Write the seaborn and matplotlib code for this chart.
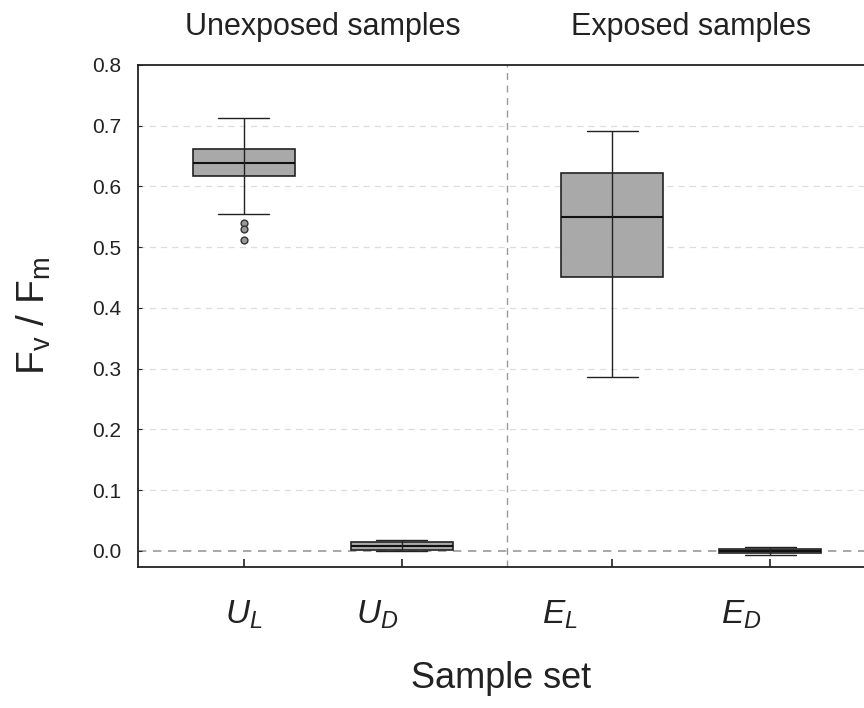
import numpy as np
import pandas as pd
import matplotlib
matplotlib.use("Agg")
import matplotlib.pyplot as plt
import seaborn as sns

# sample sets and where they sit on the x axis
groups = ["U_L", "U_D", "E_L", "E_D"]
positions = [0.0, 1.0, 2.33, 3.33]
tick_labels = [r"$U_L$", r"$U_D$", r"$E_L$", r"$E_D$"]
label_x = [0.0, 0.84, 2.0, 3.15]

# five-number summaries: low whisker, q1, median, q3, high whisker
u_l = [0.555, 0.617, 0.639, 0.662, 0.712]
u_d = [0.000, 0.002, 0.008, 0.014, 0.018]
e_l = [0.286, 0.451, 0.550, 0.622, 0.692]
e_d = [-0.006, -0.004, 0.000, 0.004, 0.006]
u_l_outliers = [0.540, 0.530, 0.512]

section_titles = ["Unexposed samples", "Exposed samples"]
section_x = [0.5, 2.83]
separator_x = 1.665

sns.set_theme(style="ticks")
plt.rcParams["font.family"] = ["Liberation Sans", "DejaVu Sans"]
plt.rcParams["mathtext.fontset"] = "custom"
plt.rcParams["mathtext.rm"] = "Liberation Sans"
plt.rcParams["mathtext.it"] = "Liberation Sans:italic"

rows = []
for pos, vals in zip(positions, [u_l, u_d, e_l, e_d]):
    for v in vals:
        rows.append({"pos": pos, "value": v})
df = pd.DataFrame(rows)

fig = plt.figure(figsize=(8.64, 7.08), dpi=100)
ax = fig.add_axes([0.1597, 0.1992, 0.8403, 0.709])

# light grid
for y in np.arange(0.1, 0.75, 0.1):
    ax.axhline(y, color="#dddddd", lw=0.9, ls=(0, (5, 4)), zorder=0)
ax.axhline(0, color="#999999", lw=1.2, ls=(0, (5, 4)), zorder=0.5)
ax.axvline(separator_x, color="#999999", lw=1.0, ls=(0, (5, 4)), zorder=0.5)

sns.boxplot(data=df, x="pos", y="value", native_scale=True, whis=(0, 100),
            width=0.645, color="#a9a9a9", linecolor="#222222", linewidth=1.0,
            fill=True, ax=ax,
            boxprops={"linewidth": 1.2},
            medianprops={"linewidth": 1.5, "color": "#111111"},
            whiskerprops={"linewidth": 1.0}, capprops={"linewidth": 1.0})

# whisker line drawn through the box as in the original
q1s = [v[1] for v in [u_l, u_d, e_l, e_d]]
q3s = [v[3] for v in [u_l, u_d, e_l, e_d]]
ax.vlines(positions, q1s, q3s, color="#222222", lw=1.0, zorder=5)

sns.scatterplot(x=[positions[0]] * len(u_l_outliers), y=u_l_outliers, ax=ax,
                s=24, color="#999999", edgecolor="#333333", linewidth=1.0, zorder=6)

ax.set_xlim(-0.67, 3.924)
ax.set_ylim(-0.0263, 0.8)
ax.set_yticks(np.arange(0, 0.81, 0.1))
ax.set_yticklabels([f"{t:.1f}" for t in np.arange(0, 0.81, 0.1)])
ax.set_xticks(positions)
ax.set_xticklabels([])
ax.tick_params(axis="x", direction="in", length=6, width=1.2, color="#222222")
ax.tick_params(axis="y", direction="in", length=3, width=0.8, labelsize=15,
               labelcolor="#222222", pad=12)

for x, lab in zip(label_x, tick_labels):
    ax.text(x, -0.105, lab, ha="center", va="center", fontsize=24, color="#222222",
            clip_on=False)

for x, t in zip(section_x, section_titles):
    ax.text(x, 0.862, t, ha="center", va="center", fontsize=22, color="#222222",
            clip_on=False)

ax.set_xlabel("Sample set", fontsize=26, color="#222222", labelpad=64)
ax.set_ylabel(r"F$_\mathregular{v}$ / F$_\mathregular{m}$", fontsize=28,
              color="#222222", labelpad=28)

for side in ["left", "bottom", "top"]:
    ax.spines[side].set_linewidth(1.3)
    ax.spines[side].set_color("#222222")
ax.spines["right"].set_visible(False)

fig.savefig("out.png", dpi=100)
